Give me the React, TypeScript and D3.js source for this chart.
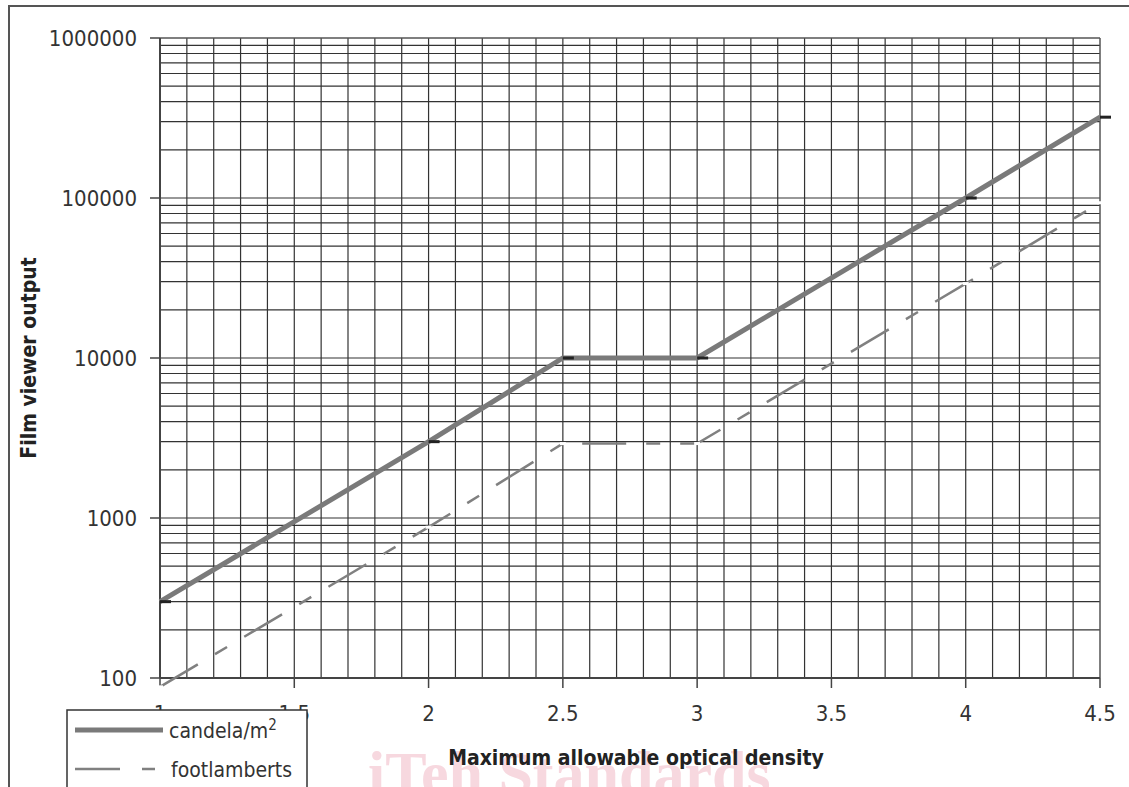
import React from "react";
import * as d3 from "d3";

// Valores
const density = [1, 2, 2.5, 3, 4, 4.5];
const candela = [300, 3000, 10000, 10000, 100000, 320000];
const footlamberts = [88, 876, 2919, 2919, 29190, 93400];
const xTicks = [1, 1.5, 2, 2.5, 3, 3.5, 4, 4.5];
const yTicks = [100, 1000, 10000, 100000, 1000000];
const legendLabels = ["candela/m", "footlamberts"];

const W = 1129;
const H = 787;
const margin = { top: 38, right: 29, bottom: 109, left: 160 };
const font = "'DejaVu Sans Condensed', 'DejaVu Sans', sans-serif";

const App = () => {
  const x = d3.scaleLinear().domain([1, 4.5]).range([margin.left, W - margin.right]);
  const y = d3.scaleLog().domain([100, 1000000]).range([H - margin.bottom, margin.top]);

  // grilla vertical cada 0.1
  const vGrid = d3.range(11, 45).map((d) => d / 10);
  // grilla horizontal 1..9 por decada
  const hGrid: number[] = [];
  [100, 1000, 10000, 100000].forEach((dec) => {
    for (let m = 1; m <= 9; m++) hGrid.push(dec * m);
  });

  const candelaPts = density.map((d, i) => [d, candela[i]] as [number, number]);
  const footPts = density.map((d, i) => [d, footlamberts[i]] as [number, number]);
  const line = d3
    .line<[number, number]>()
    .x((d) => x(d[0]))
    .y((d) => y(d[1]));

  const [x0, x1] = x.range();
  const [yb, yt] = y.range();

  return (
    <svg width={W} height={H} style={{ display: "block", position: "absolute", left: 0, top: 0 }}>
      <rect x={0} y={0} width={W} height={H} fill="#fff" />
      {/* marco exterior */}
      <rect x={9} y={6} width={W + 20} height={H + 20} fill="none" stroke="#555" strokeWidth={2} />

      {/* marca de agua */}
      <text x={368} y={794} fontFamily="'Liberation Serif', serif" fontWeight="bold" fontSize={62} fill="#f7d8df">
        iTeh Standards
      </text>

      {/* grilla */}
      {hGrid.map((v) => (
        <line key={"h" + v} x1={x0} x2={x1} y1={y(v)} y2={y(v)} stroke="#333" strokeWidth={1.2} />
      ))}
      {vGrid.map((v) => (
        <line key={"v" + v} x1={x(v)} x2={x(v)} y1={yb} y2={yt} stroke="#333" strokeWidth={1.2} />
      ))}
      <line x1={x0} x2={x1} y1={yt} y2={yt} stroke="#555" strokeWidth={1.5} />
      <line x1={x1} x2={x1} y1={yt} y2={yb} stroke="#555" strokeWidth={1.5} />
      <line x1={x0} x2={x0} y1={yt} y2={yb} stroke="#444" strokeWidth={2} />
      <line x1={x0} x2={x1} y1={yb} y2={yb} stroke="#444" strokeWidth={2} />

      {/* ticks eje y */}
      {yTicks.map((t) => (
        <g key={"yt" + t}>
          <line x1={x0 - 10} x2={x0} y1={y(t)} y2={y(t)} stroke="#444" strokeWidth={1.5} />
          <text x={x0 - 23} y={y(t)} dy="0.36em" textAnchor="end" fontFamily={font} fontSize={22} fill="#333">
            {t}
          </text>
        </g>
      ))}
      {/* ticks eje x */}
      {xTicks.map((t) => (
        <g key={"xt" + t}>
          <line x1={x(t)} x2={x(t)} y1={yb} y2={yb + 10} stroke="#444" strokeWidth={1.5} />
          <text x={x(t)} y={yb + 35} dy="0.36em" textAnchor="middle" fontFamily={font} fontSize={22} fill="#333">
            {t}
          </text>
        </g>
      ))}

      {/* series */}
      <path d={line(footPts) || ""} fill="none" stroke="#808080" strokeWidth={2.5} strokeDasharray="44,20,14,20" />
      {footPts.map((p, i) => (
        <rect key={"fm" + i} x={x(p[0]) - 3} y={y(p[1]) - 1.5} width={6} height={3} fill="#fff" />
      ))}
      <path d={line(candelaPts) || ""} fill="none" stroke="#7a7a7a" strokeWidth={5} />
      {candelaPts.map((p, i) => (
        <rect key={"cm" + i} x={x(p[0])} y={y(p[1]) - 1.5} width={11} height={3} fill="#222" />
      ))}

      {/* titulos */}
      <text
        transform={`translate(28,${(yt + yb) / 2}) rotate(-90)`}
        textAnchor="middle"
        dy="0.36em"
        fontFamily={font}
        fontWeight="bold"
        fontSize={21}
        fill="#222"
      >
        Film viewer output
      </text>
      <text x={636} y={757} dy="0.36em" textAnchor="middle" fontFamily={font} fontWeight="bold" fontSize={21} fill="#222">
        Maximum allowable optical density
      </text>

      {/* leyenda */}
      <rect x={67} y={710} width={240} height={100} fill="#fff" stroke="#333" strokeWidth={1.5} />
      <line x1={75} x2={163} y1={730} y2={730} stroke="#7a7a7a" strokeWidth={5} />
      <text x={169} y={730} dy="0.36em" fontFamily={font} fontSize={21} fill="#333">
        {legendLabels[0]}
        <tspan dy="-8" fontSize={15}>2</tspan>
      </text>
      <line x1={75} x2={165} y1={769} y2={769} stroke="#808080" strokeWidth={2.5} strokeDasharray="45,22,13,40" />
      <text x={171} y={769} dy="0.36em" fontFamily={font} fontSize={21} fill="#333">
        {legendLabels[1]}
      </text>
    </svg>
  );
};

export default App;
